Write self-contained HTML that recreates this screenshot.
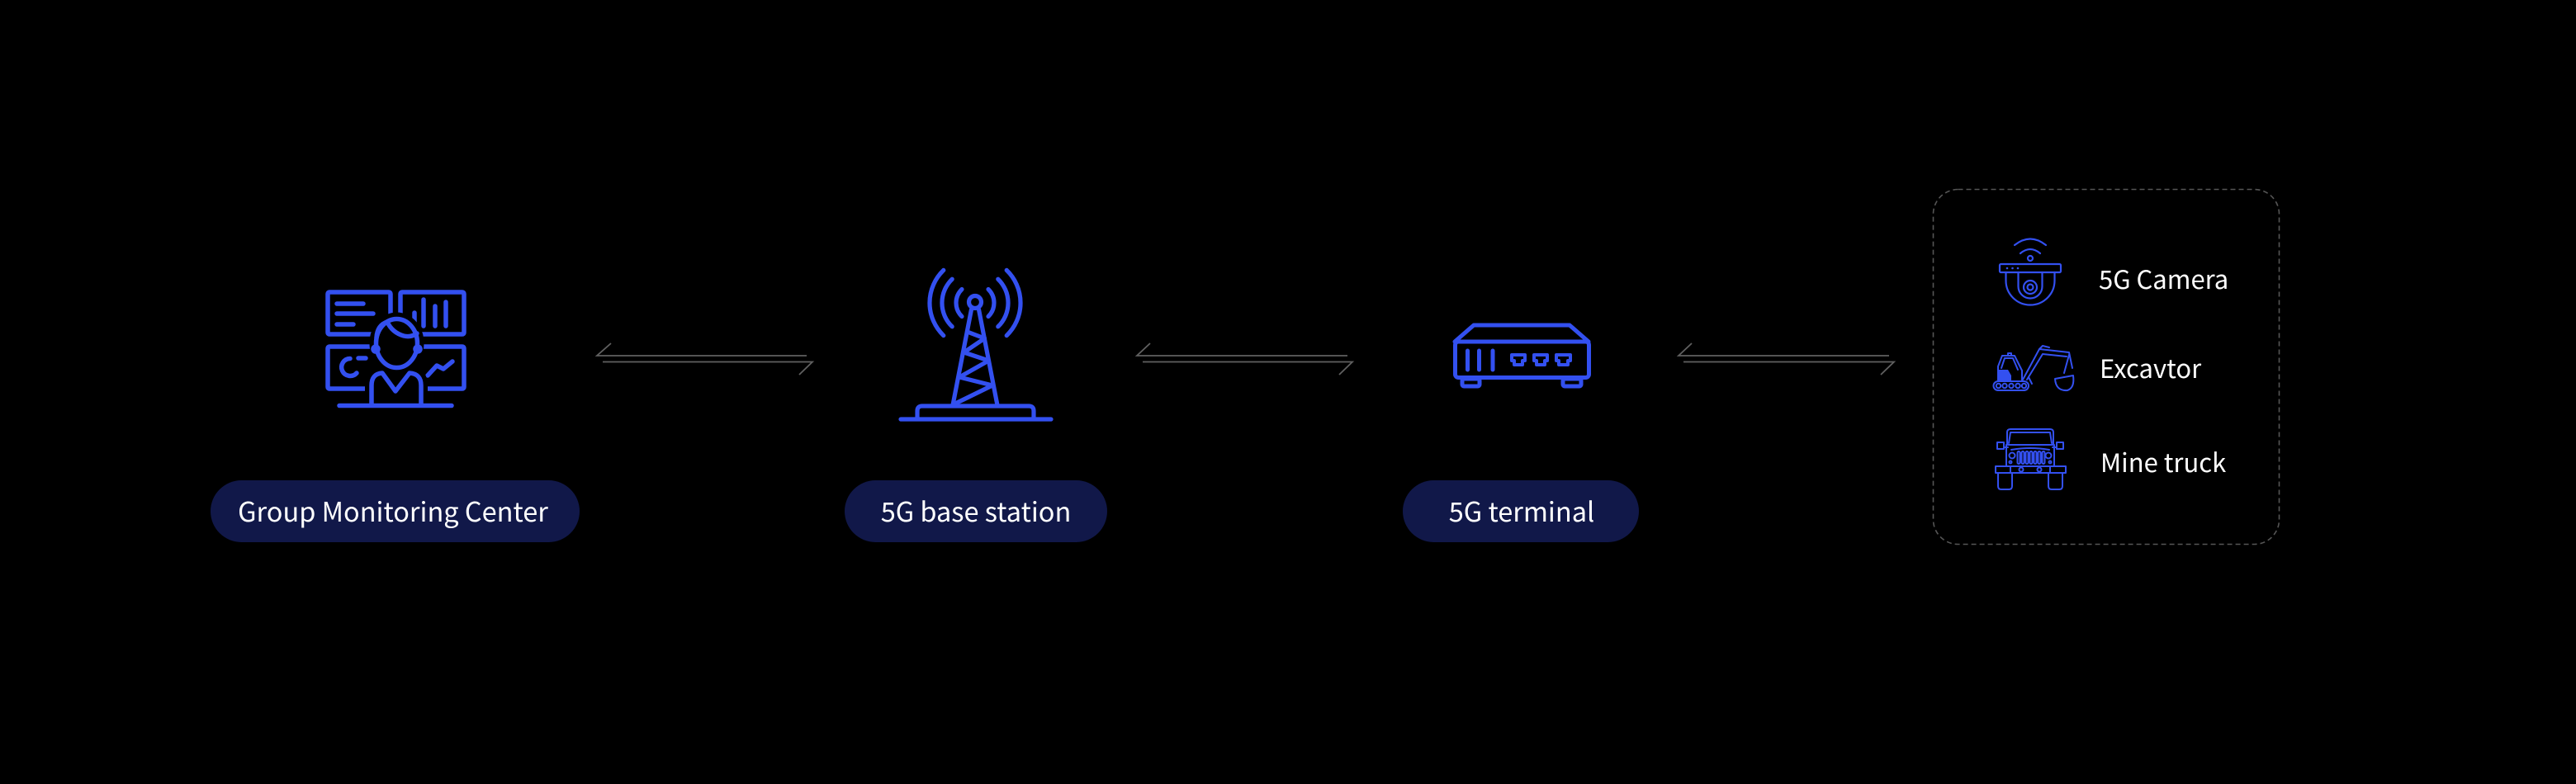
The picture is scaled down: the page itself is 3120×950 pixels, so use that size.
<!DOCTYPE html>
<html>
<head>
<meta charset="utf-8">
<style>
  html,body{margin:0;padding:0;background:#000;}
  body{width:3120px;height:950px;overflow:hidden;}
  svg{display:block;}
  .lbl{font-family:"Noto Sans CJK SC","Liberation Sans",sans-serif;fill:#ffffff;}
</style>
</head>
<body>
<svg width="3120" height="950" viewBox="0 0 3120 950" xmlns="http://www.w3.org/2000/svg">
  <rect x="0" y="0" width="3120" height="950" fill="#000"/>

  <!-- ========== Monitoring center icon ========== -->
  <g fill="none" stroke="#3350f0" stroke-width="5.5" stroke-linecap="round" stroke-linejoin="round">
    <rect x="397" y="354" width="76" height="51" rx="2"/>
    <rect x="485" y="354" width="77" height="51" rx="2"/>
    <rect x="397" y="420" width="165" height="51" rx="2"/>
    <line x1="408" y1="368" x2="440" y2="368"/>
    <line x1="408" y1="380" x2="452" y2="380"/>
    <line x1="408" y1="393" x2="428" y2="393"/>
    <line x1="502" y1="379" x2="502" y2="395"/>
    <line x1="513" y1="363" x2="513" y2="395"/>
    <line x1="527" y1="371" x2="527" y2="395"/>
    <line x1="540" y1="366" x2="540" y2="395"/>
    <path d="M 432 452 A 10.5 10.5 0 1 1 424 434.5"/>
    <line x1="434" y1="434" x2="443" y2="434"/>
    <polyline points="518,455 529,443 537,447 548,438"/>
  </g>
  <g fill="#000" stroke="#000" stroke-width="16" stroke-linejoin="round">
    <ellipse cx="480.5" cy="416" rx="25" ry="29.5"/>
    <path d="M450,489 V467 Q450,452 465,451 H495 Q510,452 510,467 V489 Z"/>
  </g>
  <g fill="none" stroke="#3350f0" stroke-width="5.5" stroke-linecap="round" stroke-linejoin="round">
    <ellipse cx="480.5" cy="416" rx="25" ry="29.5"/>
    <path d="M456,409 Q457,394 469,390 Q475,403 489,407 Q498,409 505,404"/>
    <circle cx="455" cy="423" r="3"/>
    <circle cx="506" cy="423" r="3"/>
    <path d="M450,489 V467 Q450,453 463,452 L479,474 L496,452 Q510,453 510,467 V489"/>
    <line x1="411" y1="491.5" x2="547" y2="491.5"/>
  </g>

  <!-- ========== Tower icon ========== -->
  <g fill="none" stroke="#3350f0" stroke-width="5.2" stroke-linecap="round" stroke-linejoin="round">
    <path d="M 1165 350.5 A 23 23 0 0 0 1165 383.5"/>
    <path d="M 1153.2 338.2 A 40 40 0 0 0 1153.2 395.8"/>
    <path d="M 1142.8 327.4 A 55 55 0 0 0 1142.8 406.6"/>
    <path d="M 1197 350.5 A 23 23 0 0 1 1197 383.5"/>
    <path d="M 1208.8 338.2 A 40 40 0 0 1 1208.8 395.8"/>
    <path d="M 1219.2 327.4 A 55 55 0 0 1 1219.2 406.6"/>
    <circle cx="1181" cy="366" r="7.5"/>
    <line x1="1176.5" y1="375" x2="1154" y2="491"/>
    <line x1="1185.5" y1="375" x2="1208" y2="491"/>
    <polyline points="1171.5,402 1192.5,410 1167.5,427 1197.5,437 1162,457 1202,467 1155,490"/>
    <path d="M1111,506 V498 Q1111,492 1117,492 H1246 Q1252,492 1252,498 V506"/>
    <line x1="1091" y1="508" x2="1273" y2="508"/>
  </g>

  <!-- ========== Router icon ========== -->
  <g fill="none" stroke="#3350f0" stroke-width="5" stroke-linecap="round" stroke-linejoin="round">
    <path d="M1762,414 L1785,394 H1901 L1924,414"/>
    <rect x="1762.5" y="414" width="162" height="43.5" rx="4"/>
    <rect x="1771" y="459" width="21" height="9" rx="2"/>
    <rect x="1893" y="459" width="22" height="9" rx="2"/>
    <line x1="1777.5" y1="425" x2="1777.5" y2="448"/>
    <line x1="1791.5" y1="425" x2="1791.5" y2="448"/>
    <line x1="1808" y1="425" x2="1808" y2="448"/>
  </g>
  <g fill="none" stroke="#3350f0" stroke-width="4" stroke-linejoin="round">
    <path d="M1831,430 h16 v7 h-3 v5 h-10 v-5 h-3 z"/>
    <path d="M1858,430 h16 v7 h-3 v5 h-10 v-5 h-3 z"/>
    <path d="M1885,430 h17 v7 h-3 v5 h-11 v-5 h-3 z"/>
  </g>

  <!-- ========== Arrows ========== -->
  <g fill="none" stroke="#606060" stroke-width="1.8">
    <polyline points="740,416 723,431 977,431"/>
    <polyline points="730,438.5 984,438.5 968,454"/>
    <polyline points="1393,416 1377,431 1632,431"/>
    <polyline points="1384,438.5 1638,438.5 1622,454"/>
    <polyline points="2049,416 2033,431 2288,431"/>
    <polyline points="2039,438.5 2294,438.5 2278,454"/>
  </g>

  <!-- ========== Pills ========== -->
  <rect x="255" y="582" width="447" height="75" rx="37.5" fill="#111849"/>
  <text class="lbl" x="476" y="632" font-size="32.5" text-anchor="middle">Group Monitoring Center</text>

  <rect x="1023" y="582" width="318" height="75" rx="37.5" fill="#111849"/>
  <text class="lbl" x="1182" y="632" font-size="32.5" text-anchor="middle">5G base station</text>

  <rect x="1699" y="582" width="286" height="75" rx="37.5" fill="#111849"/>
  <text class="lbl" x="1843" y="632" font-size="32.5" text-anchor="middle">5G terminal</text>

  <!-- ========== Dashed box ========== -->
  <rect x="2341.5" y="229.5" width="419" height="430" rx="30" fill="none" stroke="#555" stroke-width="1.6" stroke-dasharray="6 4"/>

  <!-- Camera icon -->
  <g fill="none" stroke="#3350f0" stroke-width="2.2" stroke-linecap="round" stroke-linejoin="round">
    <path d="M2440,297 Q2459,282 2478,297"/>
    <path d="M2447,307 Q2459,297 2471,307"/>
    <circle cx="2459" cy="313" r="3"/>
    <rect x="2422" y="320" width="74" height="10" rx="1.5"/>
    <path d="M2429.5,330 V340 A29.5 29.5 0 0 0 2488.5,340 V330"/>
    <path d="M2444.5,330 V347 A14.5 14.5 0 0 0 2473.5,347 V330"/>
    <circle cx="2459" cy="348" r="8"/>
    <circle cx="2459" cy="348" r="3.5"/>
  </g>
  <g fill="#3350f0">
    <circle cx="2431" cy="325" r="1.3"/>
    <circle cx="2437.5" cy="325" r="1.3"/>
    <circle cx="2444" cy="325" r="1.3"/>
  </g>

  <!-- Excavator icon -->
  <g fill="none" stroke="#3350f0" stroke-width="2" stroke-linecap="round" stroke-linejoin="round">
    <rect x="2414.5" y="462" width="42.5" height="11" rx="5.5"/>
    <circle cx="2420.5" cy="467.5" r="2.7"/>
    <circle cx="2428" cy="467.5" r="2.7"/>
    <circle cx="2436" cy="467.5" r="2.7"/>
    <circle cx="2444" cy="467.5" r="2.7"/>
    <circle cx="2451.5" cy="467.5" r="2.7"/>
    <path d="M2420,462 V444 L2425,431 H2440 L2449,449 V462"/>
    <path d="M2424,446 L2428,434 H2438 L2444,448"/>
    <rect x="2432" y="428" width="4" height="3"/>
    <path d="M2450,460 L2470,423 L2506,427 L2510,446"/>
    <path d="M2455,460 L2474,429 L2503,432"/>
    <path d="M2457,457 L2461,465"/>
    <path d="M2470,423 L2474,419 L2482,421"/>
    <path d="M2489,459 Q2490,474 2504,473 Q2513,470 2511,455 Z"/>
    <path d="M2506,430 L2500,452"/>
  </g>
  <path d="M2420,448 H2432 L2436,455 V461 H2420 Z" fill="#3350f0"/>

  <!-- Truck icon -->
  <g fill="none" stroke="#3350f0" stroke-width="2" stroke-linecap="round" stroke-linejoin="round">
    <path d="M2431,539 V524 Q2431,520 2435,520 H2483 Q2487,520 2487,524 V539"/>
    <path d="M2433,537 L2435,524 H2483 L2485,537"/>
    <rect x="2419" y="536" width="8" height="8"/>
    <rect x="2491" y="536" width="8" height="8"/>
    <path d="M2427,542 H2432 M2486,542 H2491"/>
    <path d="M2430,539 H2488 V565 H2430 Z"/>
    <path d="M2436,545 Q2459,541 2482,545"/>
    <circle cx="2437" cy="552" r="3.5"/>
    <circle cx="2481" cy="552" r="3.5"/>
    <circle cx="2435" cy="560" r="1.5"/>
    <circle cx="2483" cy="560" r="1.5"/>
    <rect x="2443.5" y="547" width="3" height="15" rx="1.5"/>
    <rect x="2448.5" y="547" width="3" height="15" rx="1.5"/>
    <rect x="2453.5" y="547" width="3" height="15" rx="1.5"/>
    <rect x="2458.5" y="547" width="3" height="15" rx="1.5"/>
    <rect x="2463.5" y="547" width="3" height="15" rx="1.5"/>
    <rect x="2468.5" y="547" width="3" height="15" rx="1.5"/>
    <rect x="2473.5" y="547" width="3" height="15" rx="1.5"/>
    <path d="M2417,565 H2502 V573 H2417 Z"/>
    <rect x="2435" y="565" width="48" height="8"/>
    <circle cx="2448" cy="569" r="2.5"/>
    <circle cx="2470" cy="569" r="2.5"/>
    <path d="M2420,573 V589 Q2420,593 2424,593 H2433 Q2437,593 2437,589 V573"/>
    <path d="M2481,573 V589 Q2481,593 2485,593 H2494 Q2498,593 2498,589 V573"/>
  </g>

  <text class="lbl" x="2542" y="350" font-size="31">5G Camera</text>
  <text class="lbl" x="2543" y="458" font-size="31">Excavtor</text>
  <text class="lbl" x="2544" y="572" font-size="31">Mine truck</text>
</svg>
</body>
</html>
